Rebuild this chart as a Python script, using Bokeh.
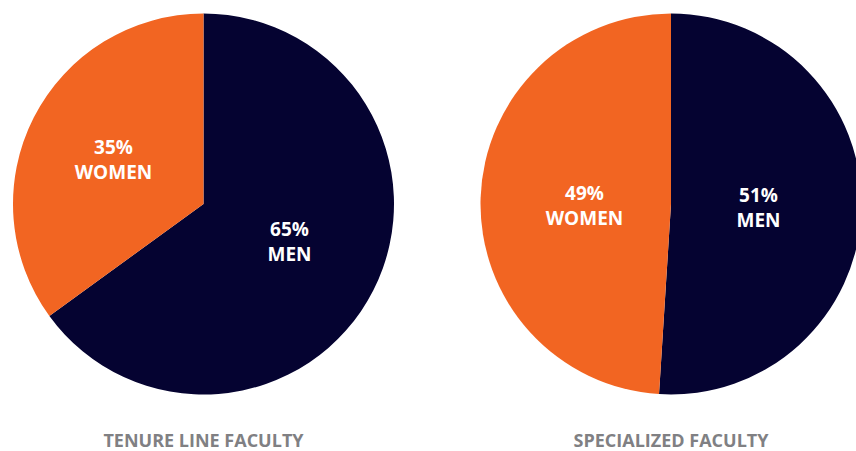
import math
from bokeh.plotting import figure
from bokeh.models import Range1d
from bokeh.core.properties import value
from bokeh.embed import file_html
from bokeh.resources import INLINE

# Data
groups = ["TENURE LINE FACULTY", "SPECIALIZED FACULTY"]
men_pct = [65, 51]
women_pct = [35, 49]

NAVY = "#050331"
ORANGE = "#F26522"
GRAY = "#808083"

W, H = 856, 451
# data coordinates: x = picture x, y = 451 - picture y
p = figure(width=W, height=H, output_backend="svg", toolbar_location=None,
           x_range=Range1d(0, W), y_range=Range1d(451 - H, 451),
           min_border=0)
p.axis.visible = False
p.grid.visible = False
p.outline_line_color = None
p.background_fill_color = "white"
p.border_fill_color = "white"

cx = [203, 670.5]
cy = 451 - 203.5
r = 190.5

for i in range(2):
    total = men_pct[i] + women_pct[i]
    men_ang = 2 * math.pi * men_pct[i] / total
    top = math.pi / 2
    # men: clockwise from top
    p.wedge(x=cx[i], y=cy, radius=r, start_angle=top - men_ang, end_angle=top,
            fill_color=NAVY, line_color=None)
    p.wedge(x=cx[i], y=cy, radius=r, start_angle=top, end_angle=top + (2 * math.pi - men_ang),
            fill_color=ORANGE, line_color=None)

# label positions (offsets from pie centre, picture pixels)
lab_off = [((86, -37), (-90, 45)), ((87.5, -3.5), (-86.5, -1))]
FONT = value("Open Sans")
for i in range(2):
    (mdx, mdy), (wdx, wdy) = lab_off[i]
    for (dx, dy), pct, word in (((mdx, mdy), men_pct[i], "MEN"), ((wdx, wdy), women_pct[i], "WOMEN")):
        x = cx[i] + dx
        y = cy + dy
        p.text(x=[x], y=[y + 12.5], text=[f"{pct}%"], text_align="center", text_baseline="middle",
               text_color="white", text_font=FONT, text_font_style="bold",
               text_font_size="19px")
        p.text(x=[x], y=[y - 12.5], text=[word], text_align="center", text_baseline="middle",
               text_color="white", text_font=FONT, text_font_style="bold",
               text_font_size="19px")

p.text(x=cx, y=[451 - 439.5, 451 - 439.5], text=groups, text_align="center", text_baseline="middle",
       text_color=GRAY, text_font=FONT, text_font_style="bold",
       text_font_size="18px")

open("out.html", "w").write(file_html(p, INLINE))
